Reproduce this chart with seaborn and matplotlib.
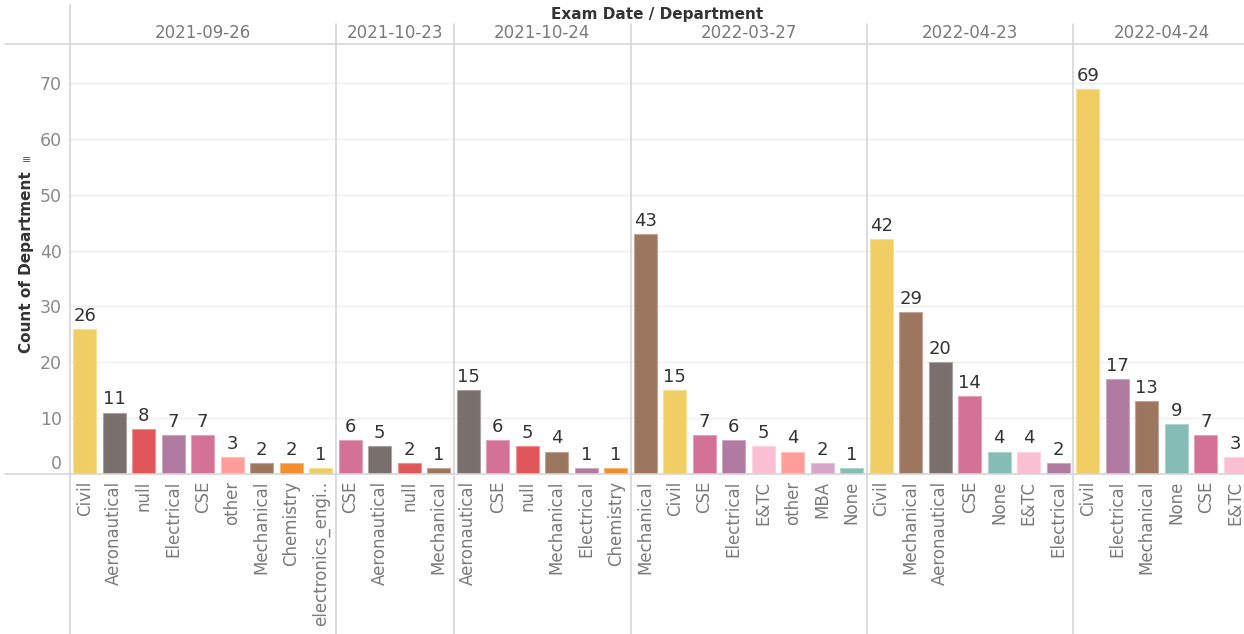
import matplotlib
matplotlib.use("Agg")
import matplotlib.pyplot as plt
import matplotlib.transforms as mtransforms
import seaborn as sns
import pandas as pd
import numpy as np

# ---------------- data ----------------
exam_dates = ["2021-09-26", "2021-10-23", "2021-10-24", "2022-03-27", "2022-04-23", "2022-04-24"]

depts_0926 = ["Civil", "Aeronautical", "null", "Electrical", "CSE", "other", "Mechanical", "Chemistry", "electronics_engi.."]
counts_0926 = [26, 11, 8, 7, 7, 3, 2, 2, 1]

depts_1023 = ["CSE", "Aeronautical", "null", "Mechanical"]
counts_1023 = [6, 5, 2, 1]

depts_1024 = ["Aeronautical", "CSE", "null", "Mechanical", "Electrical", "Chemistry"]
counts_1024 = [15, 6, 5, 4, 1, 1]

depts_0327 = ["Mechanical", "Civil", "CSE", "Electrical", "E&TC", "other", "MBA", "None"]
counts_0327 = [43, 15, 7, 6, 5, 4, 2, 1]

depts_0423 = ["Civil", "Mechanical", "Aeronautical", "CSE", "None", "E&TC", "Electrical"]
counts_0423 = [42, 29, 20, 14, 4, 4, 2]

depts_0424 = ["Civil", "Electrical", "Mechanical", "None", "CSE", "E&TC"]
counts_0424 = [69, 17, 13, 9, 7, 3]

dept_colors = {
    "Civil": "#F1CE63",
    "Aeronautical": "#79706E",
    "null": "#E15759",
    "Electrical": "#B07AA1",
    "CSE": "#D37295",
    "other": "#FF9D9A",
    "Mechanical": "#9D7660",
    "Chemistry": "#F28E2B",
    "electronics_engi..": "#F1CE63",
    "E&TC": "#FABFD2",
    "MBA": "#D4A6C8",
    "None": "#86BCB6",
}

groups = [
    (exam_dates[0], depts_0926, counts_0926),
    (exam_dates[1], depts_1023, counts_1023),
    (exam_dates[2], depts_1024, counts_1024),
    (exam_dates[3], depts_0327, counts_0327),
    (exam_dates[4], depts_0423, counts_0423),
    (exam_dates[5], depts_0424, counts_0424),
]

rows = []
for date, depts, counts in groups:
    for d, c in zip(depts, counts):
        rows.append({"date": date, "dept": d, "count": c})
df = pd.DataFrame(rows)
df["pos"] = np.arange(len(df))

# ---------------- figure ----------------
sns.set_theme(style="white")
plt.rcParams["font.family"] = ["DejaVu Sans"]

W, H = 1244, 634
fig = plt.figure(figsize=(W / 100, H / 100), dpi=100)

slot = 29.5
n = len(df)
ax_left = 70 / W
ax_bottom = (H - 474) / H
ax_h = (474 - 44) / H
ax_w = n * slot / W
ax = fig.add_axes([ax_left, ax_bottom, ax_w, ax_h])

sns.barplot(data=df, x="pos", y="count", hue="dept", palette=dept_colors,
            dodge=False, legend=False, width=0.78, saturation=1, ax=ax)

# lighter outline on bars like the reference
for p in ax.patches:
    fc = np.array(p.get_facecolor())
    ec = fc.copy()
    ec[:3] = fc[:3] + (1 - fc[:3]) * 0.35
    p.set_edgecolor(ec)
    p.set_linewidth(0.8)

for cont in ax.containers:
    ax.bar_label(cont, padding=3, fontsize=13, color="#333333")

ax.set_xlim(-0.5, n - 0.5)
ax.set_ylim(0, 77)
ax.set_yticks(range(0, 80, 10))
ax.yaxis.grid(True, color="#efefef", linewidth=1)
ax.set_axisbelow(True)
ax.tick_params(axis="y", length=0, pad=6, labelsize=12.5, labelcolor="#8a8a8a")
ax.set_ylabel("")
ax.set_xlabel("")

ax.set_xticks(df["pos"])
ax.set_xticklabels(df["dept"], rotation=90, fontsize=12, color="#7a7a7a")
ax.tick_params(axis="x", length=0, pad=5)
ax.set_xticks(np.arange(-0.5, n, 1), minor=True)
ax.tick_params(axis="x", which="minor", length=4, color="#e0e0e0", width=0.8)

# shift "0" tick label up as in the reference
offset = mtransforms.ScaledTranslation(0, 12 / 100, fig.dpi_scale_trans)
ylabs = ax.get_yticklabels()
ylabs[0].set_transform(ylabs[0].get_transform() + offset)

for s in ["left", "right", "top", "bottom"]:
    ax.spines[s].set_visible(False)

# lines: header line and baseline across the full width
line_col = "#d6d6d6"
fig.add_artist(plt.Line2D([5 / W, 1.0], [1 - 44 / H, 1 - 44 / H], color=line_col, lw=1.2))
fig.add_artist(plt.Line2D([5 / W, 1.0], [1 - 474 / H, 1 - 474 / H], color=line_col, lw=1.2))

# panel separators (data-x, figure-y)
trans = mtransforms.blended_transform_factory(ax.transData, fig.transFigure)
bounds = [-0.5]
start = 0
for date, depts, counts in groups:
    end = start + len(depts)
    center = (start + end - 1) / 2
    ax.text(center, 1 - 33 / H, date, transform=trans, ha="center", va="center",
            fontsize=12, color="#7a7a7a")
    bounds.append(end - 0.5)
    start = end

for i, b in enumerate(bounds[:-1]):
    top = 1 - 5 / H if i == 0 else 1 - 24 / H
    ax.plot([b, b], [0, top], transform=trans, color=line_col, lw=1.2, clip_on=False)

# title and y label
fig.text(657 / W, 1 - 14 / H, "Exam Date / Department", ha="center", va="center",
         fontsize=11, color="#333333", fontweight="semibold")
fig.text(27 / W, 1 - 262 / H, "Count of Department", ha="center", va="center",
         rotation=90, fontsize=11, color="#333333", fontweight="semibold")
fig.text(27 / W, 1 - 160 / H, "≡", ha="center", va="center", fontsize=8, color="#555555")

fig.savefig("out.png", dpi=100)
